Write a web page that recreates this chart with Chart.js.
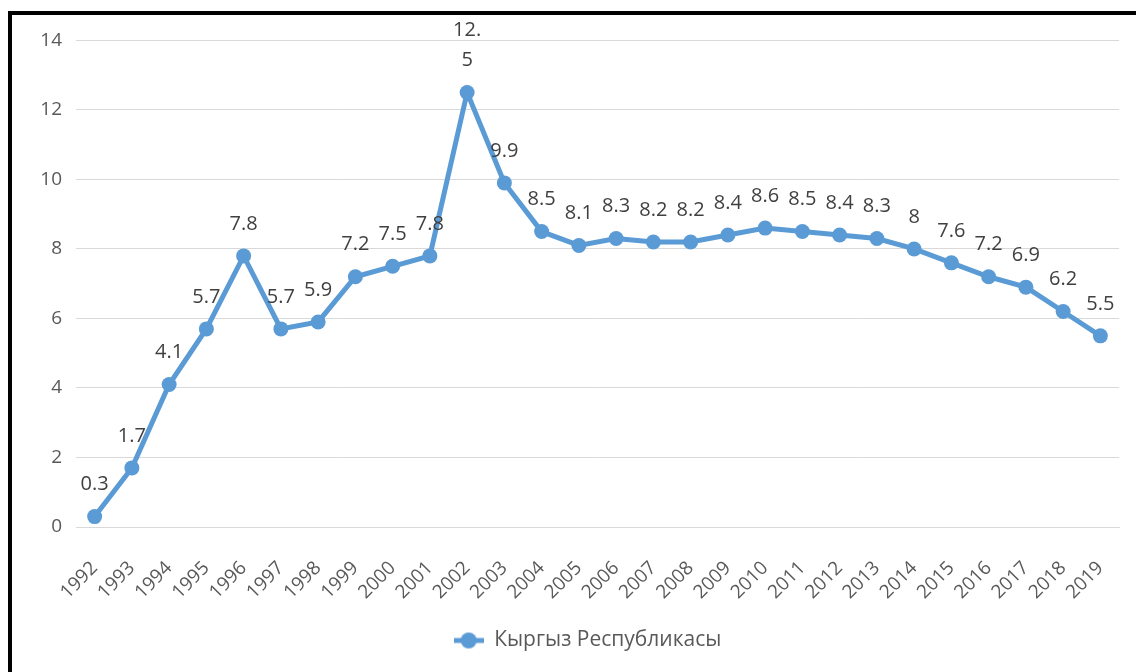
<!DOCTYPE html>
<html>
<head>
<meta charset="utf-8">
<script src="https://cdn.jsdelivr.net/npm/chart.js@4.4.0/dist/chart.umd.min.js"></script>
<style>
  html, body { margin: 0; padding: 0; background: #fff; }
  #frame {
    position: absolute; left: 8px; top: 11px;
    width: 1128px; height: 661px;
    border-left: 4px solid #000; border-top: 4px solid #000;
    box-sizing: border-box;
  }
  #wrap { position: absolute; left: 0; top: 0; width: 1124px; height: 657px; }
</style>
</head>
<body>
<div id="frame"><div id="wrap"><canvas id="chart"></canvas></div></div>
<script>
const years = ["1992","1993","1994","1995","1996","1997","1998","1999","2000","2001",
  "2002","2003","2004","2005","2006","2007","2008","2009","2010","2011",
  "2012","2013","2014","2015","2016","2017","2018","2019"];
const values = [0.3, 1.7, 4.1, 5.7, 7.8, 5.7, 5.9, 7.2, 7.5, 7.8,
  12.5, 9.9, 8.5, 8.1, 8.3, 8.2, 8.2, 8.4, 8.6, 8.5,
  8.4, 8.3, 8, 7.6, 7.2, 6.9, 6.2, 5.5];
const seriesName = "Кыргыз Республикасы";

const blue = "#5B9BD5";
const fontFamily = "'Open Sans', 'DejaVu Sans', sans-serif";

// legend marker: short line with a dot, like Excel
const marker = document.createElement("canvas");
marker.width = 30; marker.height = 18;
(function () {
  const c = marker.getContext("2d");
  c.strokeStyle = blue; c.lineWidth = 5;
  c.beginPath(); c.moveTo(0, 9); c.lineTo(30, 9); c.stroke();
  c.fillStyle = blue;
  c.beginPath(); c.arc(15, 9, 8, 0, Math.PI * 2); c.fill();
})();

// value labels above points, wrapped when too wide (as Excel does for 12.5)
const valueLabels = {
  id: "valueLabels",
  afterLayout(chart) {
    // centre the legend under the plot area rather than the whole canvas
    chart.legend.left += 44;
  },
  afterDatasetsDraw(chart) {
    const ctx = chart.ctx;
    const meta = chart.getDatasetMeta(0);
    ctx.save();
    ctx.font = "20px " + fontFamily;
    ctx.fillStyle = "#404040";
    ctx.textAlign = "center";
    ctx.textBaseline = "middle";
    meta.data.forEach((pt, i) => {
      const txt = String(values[i]);
      let lines = [txt];
      if (txt.length > 3) {
        const k = txt.indexOf(".") + 1;
        lines = [txt.slice(0, k), txt.slice(k)];
      }
      lines.forEach((ln, j) => {
        ctx.fillText(ln, pt.x, pt.y - 32 - (lines.length - 1 - j) * 30);
      });
    });
    ctx.restore();
  }
};

new Chart(document.getElementById("chart"), {
  type: "line",
  data: {
    labels: years,
    datasets: [{
      label: seriesName,
      data: values,
      borderColor: blue,
      backgroundColor: blue,
      borderWidth: 5,
      pointRadius: 7.5,
      pointHoverRadius: 7.5,
      pointBackgroundColor: blue,
      pointBorderWidth: 0,
      tension: 0
    }]
  },
  options: {
    responsive: true,
    maintainAspectRatio: false,
    animation: false,
    events: [],
    layout: { padding: { top: 25, right: 17, bottom: 11, left: 0 } },
    plugins: {
      legend: {
        position: "bottom",
        labels: {
          usePointStyle: true,
          pointStyle: marker,
          pointStyleWidth: 30,
          boxHeight: 18,
          padding: 10,
          color: "#595959",
          font: { family: fontFamily, size: 21 }
        }
      },
      tooltip: { enabled: false }
    },
    scales: {
      x: {
        offset: true,
        grid: { display: false, drawTicks: false },
        border: { color: "#D9D9D9", width: 1 },
        ticks: {
          color: "#595959",
          font: { family: fontFamily, size: 19 },
          minRotation: 45,
          maxRotation: 45,
          autoSkip: false,
          padding: 30
        },
        afterFit(s) {
          s.height = 93;
          s.paddingLeft = 0;
          s.paddingRight = 0;
        }
      },
      y: {
        min: 0,
        max: 14,
        grid: { color: "#D9D9D9", lineWidth: 1, drawTicks: false },
        border: { display: false },
        ticks: {
          stepSize: 2,
          color: "#595959",
          font: { family: fontFamily, size: 19 },
          padding: 14
        },
        afterFit(s) { s.width = 64; }
      }
    }
  },
  plugins: [valueLabels]
});
</script>
</body>
</html>
